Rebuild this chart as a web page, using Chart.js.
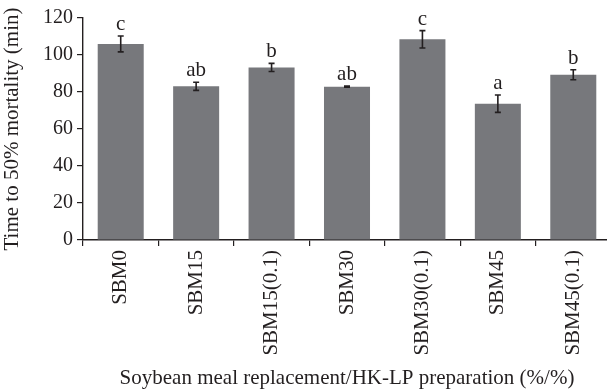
<!DOCTYPE html>
<html>
<head>
<meta charset="utf-8">
<script src="https://cdn.jsdelivr.net/npm/chart.js@4/dist/chart.umd.min.js"></script>
<style>
html,body{margin:0;padding:0;background:#fff;overflow:hidden;}
#wrap{width:611px;height:391px;}
</style>
</head>
<body>
<div id="wrap"><canvas id="c" width="611" height="391"></canvas></div>
<script>
const categories = ["SBM0","SBM15","SBM15(0.1)","SBM30","SBM30(0.1)","SBM45","SBM45(0.1)"];
const values = [106, 83.1, 93.3, 82.9, 108.5, 73.7, 89.3];
const errors = [4.3, 2.2, 2.2, 0.3, 4.7, 4.7, 2.7];
const letters = ["c","ab","b","ab","c","a","b"];
const yTicks = [0,20,40,60,80,100,120];

const FONT = "'Liberation Serif', 'DejaVu Serif', serif";
const TXT = "#231f20";

const errPlugin = {
  id: 'errbars',
  afterDatasetsDraw(chart) {
    const ctx = chart.ctx;
    const meta = chart.getDatasetMeta(0);
    const y = chart.scales.y;
    ctx.save();
    ctx.strokeStyle = TXT;
    ctx.lineWidth = 1.6;
    meta.data.forEach((bar, i) => {
      const x = bar.x;
      const yt = y.getPixelForValue(values[i] + errors[i]);
      const yb = y.getPixelForValue(values[i] - errors[i]);
      ctx.beginPath();
      ctx.moveTo(x, yt); ctx.lineTo(x, yb);
      ctx.moveTo(x - 3, yt); ctx.lineTo(x + 3, yt);
      ctx.moveTo(x - 3, yb); ctx.lineTo(x + 3, yb);
      ctx.stroke();
      ctx.fillStyle = TXT;
      ctx.font = "21px " + FONT;
      ctx.textAlign = "center";
      ctx.textBaseline = "alphabetic";
      ctx.fillText(letters[i], x, yt - 6);
    });
    ctx.restore();
  }
};

new Chart(document.getElementById('c'), {
  type: 'bar',
  data: {
    labels: categories,
    datasets: [{
      data: values,
      backgroundColor: '#77787c',
      borderWidth: 0,
      barPercentage: 0.61,
      categoryPercentage: 1.0
    }]
  },
  options: {
    responsive: false,
    animation: false,
    events: [],
    layout: { padding: { top: 18, right: 0, left: 0, bottom: 0 } },
    plugins: { legend: { display: false }, tooltip: { enabled: false } },
    scales: {
      x: {
        grid: { display: true, drawOnChartArea: false, drawTicks: true, tickLength: 6, color: TXT, offset: true, lineWidth: 1.2 },
        border: { display: true, color: TXT, width: 1.4 },
        ticks: { color: TXT, font: { family: FONT, size: 21 }, minRotation: 90, maxRotation: 90, padding: 4, autoSkip: false },
        title: { display: true, text: 'Soybean meal replacement/HK-LP preparation (%/%)', color: TXT, font: { family: FONT, size: 21 }, padding: { top: 6, bottom: 0 } },
        afterFit(s) { s.height = 151; }
      },
      y: {
        min: 0, max: 120,
        afterBuildTicks(s) { s.ticks = yTicks.map(v => ({ value: v })); },
        grid: { display: true, drawOnChartArea: false, drawTicks: true, tickLength: 6, color: TXT, lineWidth: 1.2 },
        border: { display: true, color: TXT, width: 1.4 },
        ticks: { color: TXT, font: { family: FONT, size: 20 }, padding: 4 },
        title: { display: true, text: 'Time to 50% mortality (min)', color: TXT, font: { family: FONT, size: 21 }, padding: { top: 0, bottom: 4 } },
        afterFit(s) { s.width = 83; }
      }
    }
  },
  plugins: [errPlugin]
});
</script>
</body>
</html>
